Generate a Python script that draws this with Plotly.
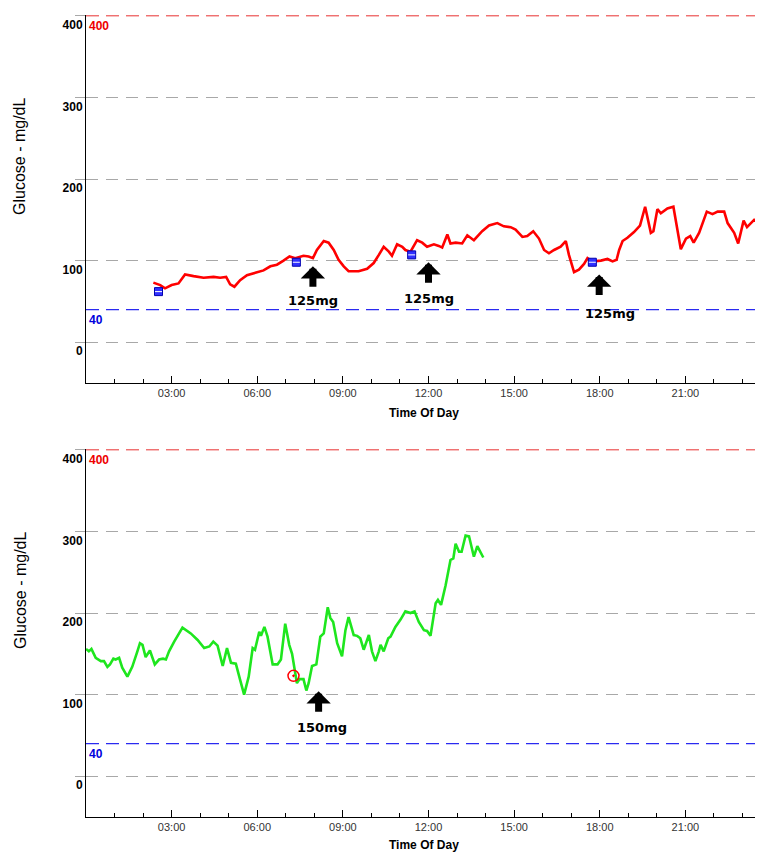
import plotly.graph_objects as go

# ---------------- data ----------------
# Day 1 (red sensor trace): time of day in hours, glucose mg/dL
top_hours = [2.36, 2.60, 2.77, 3.00, 3.24, 3.36, 3.47, 3.77, 4.12, 4.47, 4.70, 4.91, 5.05, 5.20,
             5.40, 5.64, 5.93, 6.22, 6.46, 6.69, 6.92, 7.13, 7.33, 7.62, 7.80, 7.95, 8.09, 8.33,
             8.50, 8.68, 8.85, 9.03, 9.20, 9.55, 9.85, 10.08, 10.26, 10.43, 10.61, 10.72, 10.90,
             11.08, 11.19, 11.37, 11.60, 11.78, 11.95, 12.19, 12.36, 12.48, 12.66, 12.77, 12.95,
             13.18, 13.36, 13.59, 13.88, 14.12, 14.41, 14.64, 14.88, 15.05, 15.29, 15.46, 15.67,
             15.87, 16.05, 16.22, 16.40, 16.63, 16.81, 16.92, 17.10, 17.27, 17.45, 17.57, 17.74,
             18.04, 18.27, 18.45, 18.59, 18.68, 18.80, 18.97, 19.20, 19.41, 19.59, 19.79, 19.88,
             20.02, 20.14, 20.37, 20.58, 20.63, 20.84, 21.02, 21.17, 21.29, 21.48, 21.75, 21.95,
             22.13, 22.36, 22.48, 22.71, 22.85, 23.04, 23.16, 23.41, 23.59, 23.74, 23.90]
top_glucose = [73, 70, 66, 70, 72, 77, 83, 81, 79, 80, 79, 80, 71, 68,
               76, 82, 85, 88, 93, 95, 100, 105, 103, 106, 105, 103, 113, 124,
               122, 113, 101, 93, 87, 87, 90, 97, 107, 117, 111, 106, 120,
               117, 113, 111, 125, 122, 117, 120, 118, 116, 132, 121, 122,
               121, 131, 125, 136, 143, 146, 142, 141, 138, 129, 130, 136,
               127, 113, 109, 113, 117, 124, 107, 86, 89, 96, 103, 99,
               100, 102, 99, 101, 113, 124, 128, 135, 143, 166, 134, 136,
               163, 158, 164, 166, 156, 114, 127, 130, 122, 134, 160, 157,
               160, 160, 146, 134, 121, 149, 141, 150, 146, 149, 147]

# Day 1 meter calibration entries
cal_hours = [2.54, 7.37, 11.41, 17.74]
cal_glucose = [62, 98, 107, 98]

# Day 1 carbohydrate events (arrows)
top_event_hours = [7.95, 12.00, 17.98]
top_event_glucose = [93, 98, 83]
top_event_labels = ["125mg", "125mg", "125mg"]

# Day 2 (green sensor trace)
bottom_hours = [0.00, 0.10, 0.19, 0.34, 0.52, 0.63, 0.75, 0.84, 0.96, 1.04, 1.16, 1.27, 1.45,
                1.62, 1.80, 1.89, 1.98, 2.09, 2.24, 2.41, 2.56, 2.70, 2.80, 2.91, 3.09, 3.23,
                3.38, 3.67, 3.91, 4.14, 4.32, 4.46, 4.61, 4.79, 4.94, 5.08, 5.25, 5.40, 5.54,
                5.70, 5.84, 5.92, 6.07, 6.13, 6.25, 6.36, 6.54, 6.71, 6.83, 6.98, 7.12, 7.22,
                7.30, 7.39, 7.48, 7.62, 7.72, 7.80, 7.92, 8.07, 8.21, 8.33, 8.47, 8.56, 8.66,
                8.80, 8.97, 9.09, 9.20, 9.38, 9.50, 9.61, 9.73, 9.91, 10.02, 10.14, 10.26,
                10.32, 10.43, 10.59, 10.67, 10.84, 11.02, 11.19, 11.37, 11.51, 11.66, 11.84,
                11.95, 12.07, 12.25, 12.33, 12.44, 12.60, 12.77, 12.87, 12.95, 13.07, 13.16,
                13.30, 13.42, 13.59, 13.71, 13.92]
bottom_glucose = [156, 153, 156, 145, 141, 141, 134, 137, 144, 143, 145, 133, 122,
                  134, 153, 163, 161, 146, 154, 137, 143, 144, 143, 153, 165, 174,
                  182, 175, 167, 157, 159, 165, 160, 135, 157, 139, 138, 118, 100,
                  122, 157, 155, 177, 172, 183, 171, 137, 137, 143, 187, 161, 150,
                  135, 114, 119, 119, 105, 114, 135, 137, 171, 175, 207, 194, 189,
                  163, 147, 179, 195, 173, 172, 169, 155, 173, 153, 141, 153,
                  161, 153, 169, 171, 183, 192, 202, 200, 202, 189, 179,
                  178, 172, 212, 216, 210, 234, 265, 267, 285, 275, 275,
                  295, 294, 269, 282, 268]

# Day 2 marker icon and carbohydrate event
icon_hours = [7.27]
icon_glucose = [123]
bottom_event_hours = [8.15]
bottom_event_glucose = [104]
bottom_event_labels = ["150mg"]

# axis ticks
major_ticks = [3, 6, 9, 12, 15, 18, 21]
major_labels = ["03:00", "06:00", "09:00", "12:00", "15:00", "18:00", "21:00"]
minor_ticks = [1, 2, 4, 5, 7, 8, 10, 11, 13, 14, 16, 17, 19, 20, 22, 23]
y_ticks = [0, 100, 200, 300, 400]
high_limit = 400
low_limit = 40

# ---------------- figure ----------------
W, H = 763, 852
OFF = 8                      # page offset of the figure inside the window
ML, MR, MT, MB = 78, 0, 7, 43
plot_h = H - MT - MB
plot_w = W - ML - MR


def py(win_pix):
    return (H - MB - (win_pix - OFF)) / plot_h


def px(win_pix):
    return ((win_pix - OFF) - ML) / plot_w


fig = go.Figure()

GRID = "#a8a8a8"
TICKFONT = dict(family="Liberation Sans, Arial", size=11, color="#333333")
YFONT = dict(family="Liberation Sans, Arial", size=12, color="black", weight="bold")

fig.add_trace(go.Scatter(x=top_hours, y=top_glucose, mode="lines",
                         line=dict(color="#ff0000", width=2.6), xaxis="x", yaxis="y",
                         hoverinfo="skip"))
fig.add_trace(go.Scatter(x=cal_hours, y=cal_glucose, mode="markers",
                         marker=dict(symbol="square", size=8, color="#3030ff",
                                     line=dict(color="#0000b0", width=1)),
                         xaxis="x", yaxis="y", hoverinfo="skip"))
fig.add_trace(go.Scatter(x=cal_hours, y=cal_glucose, mode="markers",
                         marker=dict(symbol="line-ew", size=5,
                                     line=dict(color="#ffffff", width=1)),
                         xaxis="x", yaxis="y", hoverinfo="skip"))

fig.add_trace(go.Scatter(x=bottom_hours, y=bottom_glucose, mode="lines",
                         line=dict(color="#1ee61e", width=2.6), xaxis="x2", yaxis="y2",
                         hoverinfo="skip"))
fig.add_trace(go.Scatter(x=icon_hours, y=icon_glucose, mode="markers",
                         marker=dict(symbol="circle-open-dot", size=11, color="#ff0000",
                                     line=dict(color="#ff0000", width=1.5)),
                         xaxis="x2", yaxis="y2", hoverinfo="skip"))

top_dom = [py(383), 1]
bot_dom = [0, py(449)]

xcommon = dict(range=[0, 24], tickmode="array", tickvals=major_ticks, ticktext=major_labels,
               ticks="inside", ticklen=7, tickcolor="black", tickwidth=1,
               minor=dict(tickvals=minor_ticks, ticks="inside", ticklen=4, tickcolor="black"),
               showline=True, linecolor="black", linewidth=1, showgrid=False, zeroline=False,
               tickfont=TICKFONT, fixedrange=True)
ycommon = dict(range=[-50, 401], tickmode="array", tickvals=y_ticks,
               ticks="outside", ticklen=10, tickcolor=GRID, tickwidth=1,
               ticklabelposition="outside bottom",
               showline=True, linecolor="black", linewidth=1,
               showgrid=True, gridcolor=GRID, gridwidth=1, griddash="12px,8px",
               zeroline=False, tickfont=YFONT, fixedrange=True)

fig.update_layout(
    width=W, height=H,
    margin=dict(l=ML, r=MR, t=MT, b=MB),
    paper_bgcolor="white", plot_bgcolor="white",
    showlegend=False,
    xaxis=dict(anchor="y", domain=[0, 1], **xcommon),
    yaxis=dict(anchor="x", domain=top_dom, **ycommon),
    xaxis2=dict(anchor="y2", domain=[0, 1], **xcommon),
    yaxis2=dict(anchor="x2", domain=bot_dom, **ycommon),
)

# limit lines
for xr, yr in (("x", "y"), ("x2", "y2")):
    fig.add_shape(type="line", xref=f"{xr} domain", yref=yr, x0=0, x1=1,
                  y0=high_limit, y1=high_limit,
                  line=dict(color="#e83030", width=1, dash="13px,7px"))
    fig.add_shape(type="line", xref=f"{xr} domain", yref=yr, x0=0, x1=1,
                  y0=low_limit, y1=low_limit,
                  line=dict(color="#2a2af0", width=1.2, dash="13px,7px"))
    fig.add_annotation(xref=f"{xr} domain", yref=yr, x=0, y=high_limit,
                       xanchor="left", yanchor="top", xshift=1, yshift=-1,
                       text=str(high_limit), showarrow=False,
                       font=dict(family="Liberation Sans, Arial", size=12, color="#ee0000",
                                 weight="bold"))
    fig.add_annotation(xref=f"{xr} domain", yref=yr, x=0, y=low_limit,
                       xanchor="left", yanchor="top", xshift=1, yshift=-1,
                       text=str(low_limit), showarrow=False,
                       font=dict(family="Liberation Sans, Arial", size=12, color="#0000dd",
                                 weight="bold"))

# axis titles
for yc in (157, 591):
    fig.add_annotation(xref="paper", yref="paper", x=px(20), y=py(yc),
                       xanchor="center", yanchor="middle", textangle=-90,
                       text="Glucose - mg/dL", showarrow=False,
                       font=dict(family="Liberation Sans, Arial", size=16, color="black"))
for yc in (413, 845):
    fig.add_annotation(xref="paper", yref="paper", x=px(424), y=py(yc),
                       xanchor="center", yanchor="middle",
                       text="Time Of Day", showarrow=False,
                       font=dict(family="Liberation Sans, Arial", size=12, color="black",
                                 weight="bold"))

# carbohydrate event arrows
LABELFONT = dict(family="DejaVu Sans, Verdana", size=13, color="black", weight="bold")
label_shift_top = [(0, -34), (0, -36), (11, -39)]
label_shift_bottom = [(3, -36)]
for (xr, yr, hrs, vals, labels, shifts) in (
        ("x", "y", top_event_hours, top_event_glucose, top_event_labels, label_shift_top),
        ("x2", "y2", bottom_event_hours, bottom_event_glucose, bottom_event_labels,
         label_shift_bottom)):
    for h, v, lab, (sx, sy) in zip(hrs, vals, labels, shifts):
        fig.add_annotation(xref=xr, yref=yr, x=h, y=v, ax=0, ay=22, axref="pixel",
                           text="", showarrow=True, arrowhead=1, arrowsize=0.58,
                           arrowwidth=7, arrowcolor="black")
        fig.add_annotation(xref=xr, yref=yr, x=h, y=v, yshift=sy, xshift=sx,
                           text=lab, showarrow=False, font=LABELFONT)

fig.write_html("out.html")
